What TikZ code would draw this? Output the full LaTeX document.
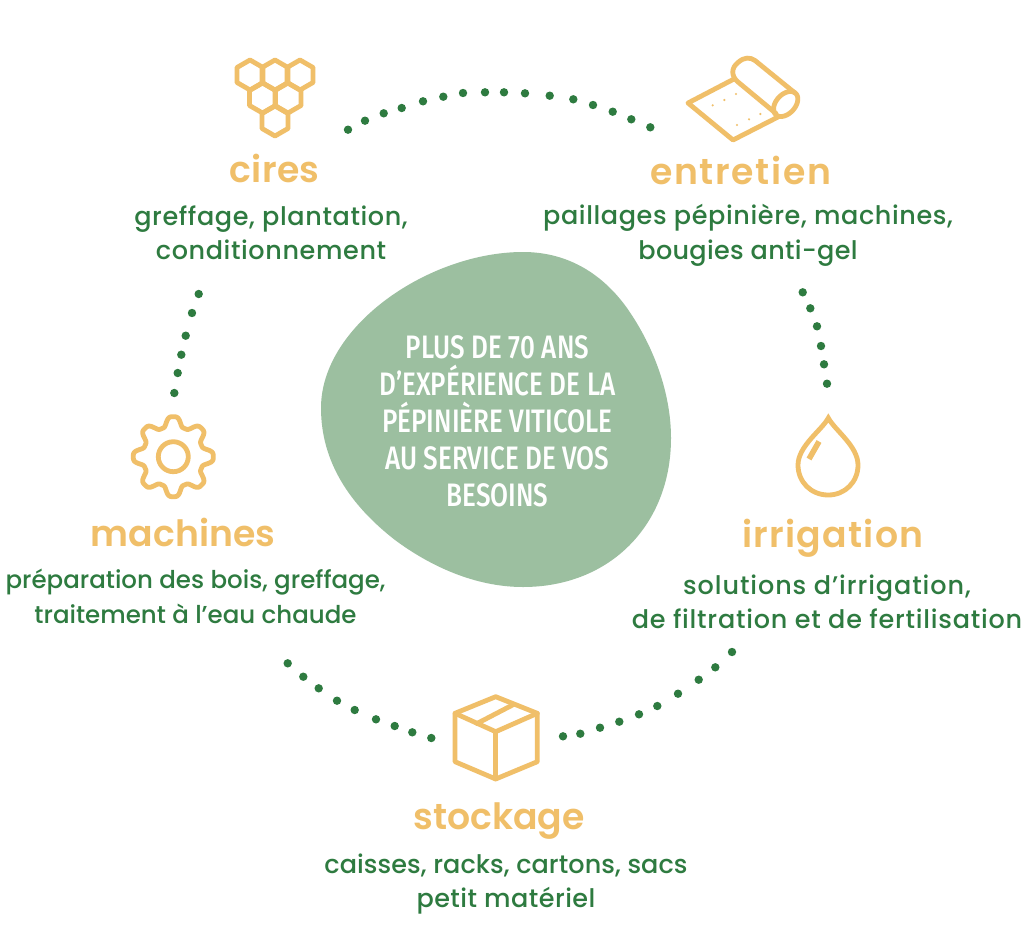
\documentclass[tikz,border=0pt]{standalone}
\usepackage{fontspec}
\setmainfont{Poppins Medium}
\newfontfamily\titlefont{Poppins SemiBold}
\newfontfamily\centerfont[FakeStretch=0.8]{Fira Sans Medium}
\newcommand{\setbody}[2]{\fontsize{#1}{34.5}\selectfont\addfontfeature{LetterSpace=#2}}
\definecolor{honey}{HTML}{F0BF69}
\definecolor{leaf}{HTML}{2E7B40}
\definecolor{blob}{HTML}{9CBFA0}
\tikzset{
  icon/.style={draw=honey,line width=4.8pt,line join=round,line cap=round},
  dotmark/.style={fill=leaf,draw=none,circle,minimum size=8.4pt,inner sep=0pt},
  tiny/.style={fill=honey,draw=none,circle,minimum size=2.4pt,inner sep=0pt},
  title/.style={text=honey,font=\titlefont\fontsize{36.2}{40}\selectfont,inner sep=0pt},
  body/.style={text=leaf,font=\fontsize{24.5}{34.5}\selectfont,align=center,inner sep=0pt},
  hex/.pic={\draw[icon] (0,-15) -- (13,-7.5) -- (13,7.5) -- (0,15) -- (-13,7.5) -- (-13,-7.5) -- cycle;}
}
\begin{document}
\begin{tikzpicture}[x=1pt,y=-1pt]
\useasboundingbox (0,0) rectangle (1024,934);
\fill[white] (0,0) rectangle (1024,934);
% blob
\fill[blob] (523,252) .. controls (570,252) and (604,276) .. (627,308)
  .. controls (655,348) and (671,395) .. (671,438)
  .. controls (671,525) and (610,587) .. (523,587)
  .. controls (475,587) and (430,566) .. (395,540)
  .. controls (350,505) and (321,462) .. (321,408)
  .. controls (321,325) and (430,252) .. (523,252) -- cycle;
\node[text=white,font=\centerfont\fontsize{32.5}{37}\selectfont,align=center,inner sep=0pt] (centre) at (497.5,421)
  {PLUS DE 70 ANS\\D’EXPÉRIENCE DE LA\\PÉPINIÈRE VITICOLE\\AU SERVICE DE VOS\\BESOINS};
% dots
\foreach \i/\p in {1/{348,129.7},2/{365,120.7},3/{383.7,113.3},4/{401.7,108},5/{423,101.3},6/{443.3,96.7},7/{463,93},8/{485,92.3},9/{504,92.3},10/{525,93.3},11/{549.7,95.7},12/{573.3,99.3},13/{593,105},14/{612.7,111.7},15/{631.3,119.3},16/{650.3,127.3}}
  \node[dotmark] (top\i) at (\p) {};
\foreach \i/\p in {1/{198.7,294},2/{192,313},3/{185.7,335.7},4/{181.3,354.7},5/{177.7,373},6/{174.3,393}}
  \node[dotmark] (left\i) at (\p) {};
\foreach \i/\p in {1/{802.7,292.3},2/{810.3,308.3},3/{817,326.3},4/{821,346},5/{824,364.3},6/{827,383.7}}
  \node[dotmark] (right\i) at (\p) {};
\foreach \i/\p in {1/{287.7,663.3},2/{303.3,676.7},3/{318.7,688.3},4/{337,700.7},5/{354.7,710},6/{376,719.3},7/{394.7,726},8/{412.3,732.3},9/{431.3,738}}
  \node[dotmark] (bl\i) at (\p) {};
\foreach \i/\p in {1/{563,736.3},2/{580.3,733.7},3/{600,727.7},4/{619.3,721.7},5/{639,714.3},6/{657.3,706},7/{678,693.7},8/{698.7,679.7},9/{715.3,667.3},10/{732,652}}
  \node[dotmark] (br\i) at (\p) {};
% honeycomb
\foreach \p in {{250,75},{275,75},{300,75},{262.5,98},{288,98},{275,121}}
  \pic at (\p) {hex};
% roll
\draw[icon] (734,79) -- (688,103) -- (733,140) -- (778,117);
\draw[icon] (776,113.5) -- (738,82) .. controls (731,76) and (731,68) .. (738,62.5) .. controls (744,57) and (750,57) .. (755,60.5) -- (795,93);
\draw[icon] plot[domain=0:360,samples=60,smooth] ({785.7+14.5*0.68*cos(\x)+9.5*0.74*sin(\x)},{104-14.5*0.74*cos(\x)+9.5*0.68*sin(\x)}) -- cycle;
\foreach \p in {{712.7,105.3},{724.3,100},{736,94},{737,125},{749,119.3},{760.3,114}}
  \node[tiny] at (\p) {};
% gear
\draw[icon] plot[domain=0:360,samples=240,smooth] ({173.3+(35.2+4.8*(cos(8*\x)-0.12*cos(24*\x))/0.88)*sin(\x)},{456.7-(35.2+4.8*(cos(8*\x)-0.12*cos(24*\x))/0.88)*cos(\x)}) -- cycle;
\draw[icon] (173.3,456.7) circle[radius=15];
% drop
\draw[icon,line join=miter] (828.3,418) .. controls (822,430) and (798,446) .. (798,465)
  .. controls (798,482) and (811,495) .. (828.3,495)
  .. controls (845,495) and (858,482) .. (858,465)
  .. controls (858,446) and (834.6,430) .. (828.3,418) -- cycle;
\draw[icon,line cap=butt,line width=5.6pt] (819,441.5) -- (809,459);
% box
\draw[icon] (495.7,696.7) -- (537.3,713.3) -- (537.3,761.7) -- (495.7,779) -- (455,761.7) -- (455,713.3) -- cycle;
\draw[icon] (455,713.3) -- (495.7,731.7) -- (537.3,713.3);
\draw[icon] (495.7,731.7) -- (495.7,779);
\draw[icon] (513.5,704.5) -- (477,723.5);
% labels
\node[title] (cires) at (274.5,168.5) {\addfontfeature{LetterSpace=1}cires};
\node[body] (ciresb) at (271,233) {\setbody{25.5}{2.4}greffage, plantation,\\\setbody{25.5}{2.4}conditionnement};
\node[title] (entretien) at (740.5,170.5) {\addfontfeature{LetterSpace=4.6}entretien};
\node[body] (entretienb) at (748,235.5) {\setbody{25.5}{2.4}paillages pépinière, machines,\\\setbody{25.5}{1.2}bougies anti-gel};
\node[title] (machines) at (183,532.5) {machines};
\node[body] (machinesb) at (195.5,596.5) {préparation des bois, greffage,\\traitement à l’eau chaude};
\node[title] (irrigation) at (833,538) {\addfontfeature{LetterSpace=3.6}irrigation};
\node[body] (irrigationb) at (827,602) {\setbody{25.5}{3.6}solutions d’irrigation,\\\setbody{25.5}{3}de filtration et de fertilisation};
\node[title] (stockage) at (499,821.5) {stockage};
\node[body] (stockageb) at (506,884) {\setbody{25.5}{0.3}caisses, racks, cartons, sacs\\\setbody{25.5}{1.8}petit matériel};
\end{tikzpicture}
\end{document}
